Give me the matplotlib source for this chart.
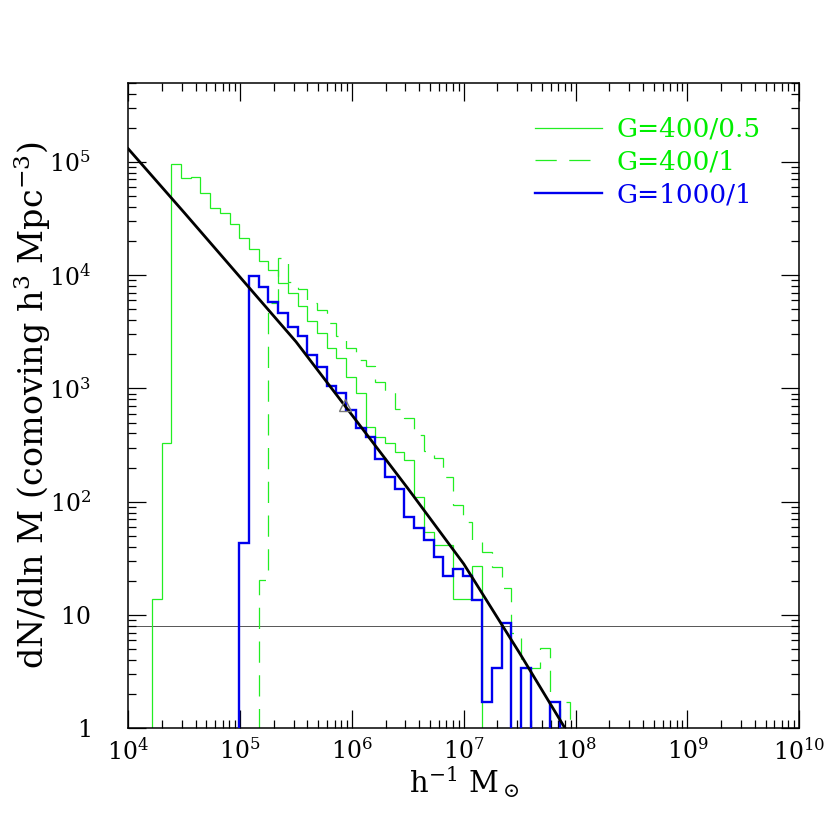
import numpy as np
import matplotlib
matplotlib.use('Agg')
import matplotlib.pyplot as plt
from matplotlib.ticker import LogLocator, FuncFormatter, NullFormatter

plt.rcParams['font.family'] = ['DejaVu Serif']
plt.rcParams['mathtext.fontset'] = 'dejavuserif'

# histogram bins: equal steps in ln M
bin_lo = 1.626e4
dlnM = 0.2

# G=400/0.5 (thin solid green), first bin index 0
g05_start = 0
g05_vals = [13.8, 332, 95000, 71400, 72900, 53300, 39400, 35600, 28100, 21400,
            16900, 13300, 11100, 8470, 6900, 5330, 3960, 3060, 2260, 1850,
            1270, 906, 459, 375, 327, 276, 233, 111, 54.3, 41.5,
            41.5, 13.8, 13.8, 27.2]

# G=400/1 (dashed green), first bin index 11
g1_start = 11
g1_vals = [20.4, 5640, 14060, 8750, 7500, 5680, 4920, 3760, 2900, 2260,
           1780, 1580, 1150, 935, 655, 545, 388, 279, 242, 166,
           93.5, 66.7, 45.3, 36.2, 26.4, 17.2, 6.9, 3.4, 3.4, 5.1,
           0, 1.7]

# G=1000/1 (blue), first bin index 9
g1000_start = 9
g1000_vals = [43, 9890, 7910, 5820, 4600, 3510, 2900, 1970, 1550, 1050,
              916, 644, 445, 375, 237, 166, 129, 72.8, 58.2, 45.9,
              32.3, 22.1, 25.5, 22.1, 13.6, 1.7, 3.4, 8.5, 0, 3.4,
              0, 0, 1.7]

# analytic mass function (black curve)
fit_m = [1e4, 3.16e4, 1e5, 3.16e5, 1e6, 3.16e6, 1e7, 3.16e7, 8.05e7]
fit_n = [1.30e5, 3.56e4, 9570, 2580, 582, 131, 28.2, 4.6, 1.0]

# single marker
tri_m = [8.67e5]
tri_n = [713]

hline_y = 8.0

x_major = [1e4, 1e5, 1e6, 1e7, 1e8, 1e9, 1e10]
y_major = [1, 10, 1e2, 1e3, 1e4, 1e5]


def edges_for(start, n):
    k = np.arange(start, start + n + 1)
    return bin_lo * np.exp(dlnM * k)


def clip0(v):
    v = np.asarray(v, dtype=float)
    return np.where(v > 0, v, 1e-2)


fig = plt.figure(figsize=(8.3, 8.3), dpi=100)
ax = fig.add_axes([0.1546, 0.1225, 0.8084, 0.778])

ax.axhline(hline_y, color='#555555', lw=0.7, zorder=1)

h1 = ax.stairs(clip0(g05_vals), edges_for(g05_start, len(g05_vals)), baseline=1e-2,
               color='#22ee22', lw=0.9, label='G=400/0.5', zorder=2)
h2 = ax.stairs(clip0(g1_vals), edges_for(g1_start, len(g1_vals)), baseline=1e-2,
               color='#22ee22', lw=0.9, linestyle=(0, (17, 10)), label='G=400/1', zorder=2)
h3 = ax.stairs(clip0(g1000_vals), edges_for(g1000_start, len(g1000_vals)), baseline=1e-2,
               color='#0000ee', lw=1.7, label='G=1000/1', zorder=3)

ax.plot(fit_m, fit_n, color='black', lw=2.0, zorder=4)
ax.plot(tri_m, tri_n, marker='^', mfc='none', mec='#777777', ms=8, lw=0, zorder=5)

ax.set_xscale('log')
ax.set_yscale('log')
ax.set_xlim(1e4, 1e10)
ax.set_ylim(1, 5e5)

ax.set_xticks(x_major)
ax.set_yticks(y_major)
ax.xaxis.set_minor_locator(LogLocator(base=10, subs=np.arange(2, 10), numticks=20))
ax.yaxis.set_minor_locator(LogLocator(base=10, subs=np.arange(2, 10), numticks=20))


def xfmt(v, pos):
    return r'$10^{%d}$' % round(np.log10(v))


def yfmt(v, pos):
    e = round(np.log10(v))
    if e == 0:
        return r'$1$'
    if e == 1:
        return r'$10$'
    return r'$10^{%d}$' % e


ax.xaxis.set_major_formatter(FuncFormatter(xfmt))
ax.yaxis.set_major_formatter(FuncFormatter(yfmt))
ax.xaxis.set_minor_formatter(NullFormatter())
ax.yaxis.set_minor_formatter(NullFormatter())

ax.tick_params(which='both', direction='in', top=True, right=True, width=0.9, color='black')
ax.tick_params(which='major', length=13, labelsize=17)
ax.tick_params(axis='x', which='major', pad=7)
ax.tick_params(axis='y', which='major', pad=27)
ax.tick_params(which='minor', length=6)
for s in ax.spines.values():
    s.set_linewidth(1.1)

ax.set_xlabel(r'h$^{-1}$ M$_\odot$', fontsize=21, labelpad=0)
ax.set_ylabel(r'dN/dln M (comoving h$^3$ Mpc$^{-3}$)', fontsize=24, labelpad=-3)

leg = ax.legend(handles=[h1, h2, h3], loc='upper right', bbox_to_anchor=(0.943, 0.947),
                frameon=False, fontsize=19, handlelength=2.55, handletextpad=0.55,
                labelspacing=0.3, borderaxespad=0, borderpad=0)
for t, c in zip(leg.get_texts(), ['#00ee00', '#00ee00', '#0000ee']):
    t.set_color(c)

fig.savefig('out.png', dpi=100)
